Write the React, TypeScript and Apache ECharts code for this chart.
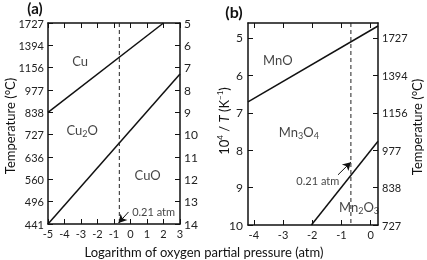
import React, { useEffect, useRef } from "react";
import * as echarts from "echarts";

// Panel (a): Cu–O system
const cuLogP = [-5, 2];
const cuInvT = [9, 5];
const cu2oLogP = [-5, 3];
const cu2oInvT = [14, 7.28];
const invTTicksA = [5, 6, 7, 8, 9, 10, 11, 12, 13, 14];
const tempLabelsA = ["1727", "1394", "1156", "977", "838", "727", "636", "560", "496", "441"];
const logPTicksA = [-5, -4, -3, -2, -1, 0, 1, 2, 3];

// Panel (b): Mn–O system
const mnoLogP = [-4.2, 0.25];
const mnoInvT = [6.71, 4.68];
const mn2o3LogP = [-2.03, 0.25];
const mn2o3InvT = [10, 7.76];
const invTTicksB = [5, 6, 7, 8, 9, 10];
const tempLabelsB = ["1727", "1394", "1156", "977", "838", "727"];
const logPTicksB = [-4, -3, -2, -1, 0];

// air: 0.21 atm
const airLogP = Math.log10(0.21);

const FONT = "Lato, 'Noto Sans', sans-serif";
const BLACK = "#111";

function pairs(xs: number[], ys: number[]) {
  return xs.map((x, i) => [x, ys[i]]);
}

export default function App() {
  const ref = useRef<HTMLDivElement>(null);
  useEffect(() => {
    if (!ref.current) return;
    const chart = echarts.init(ref.current, null, { renderer: "svg" });

    const axisLine = { show: true, onZero: false, lineStyle: { color: BLACK, width: 1.5 } };
    const tick = { show: true, inside: true, length: 5, lineStyle: { color: BLACK, width: 1 } };
    const lbl = { fontFamily: FONT, fontSize: 11, color: "#222" };

    const regLabel = (text: string, x: number, y: number) => ({
      value: [x, y],
      name: text,
    });
    const rich = {
      n: { fontFamily: FONT, fontSize: 13, color: "#111", lineHeight: 16 },
      s: { fontFamily: FONT, fontSize: 9, color: "#111", lineHeight: 16, verticalAlign: "bottom" as const, padding: [6, 0, 0, 0] },
      a: { fontFamily: FONT, fontSize: 11, color: "#111", lineHeight: 16 },
    };

    const labelSeries = (xi: number, yi: number, data: any[]) => ({
      type: "scatter",
      xAxisIndex: xi,
      yAxisIndex: yi,
      symbolSize: 0,
      silent: true,
      data,
      label: {
        show: true,
        position: "inside",
        formatter: (p: any) => p.name,
        rich,
      },
    });

    const phaseLine = (xi: number, yi: number, data: number[][]) => ({
      type: "line",
      xAxisIndex: xi,
      yAxisIndex: yi,
      data,
      symbol: "none",
      silent: true,
      lineStyle: { color: BLACK, width: 1.5 },
    });

    const dashLine = (xi: number, yi: number, y0: number, y1: number, arrow: number[][]) => ({
      type: "line",
      xAxisIndex: xi,
      yAxisIndex: yi,
      data: [
        [airLogP, y0],
        [airLogP, y1],
      ],
      symbol: "none",
      silent: true,
      lineStyle: { color: "#222", width: 1, type: [4, 3] },
      markLine: {
        silent: true,
        symbol: ["none", "arrow"],
        symbolSize: [7, 8],
        label: { show: false },
        lineStyle: { color: BLACK, width: 1, type: "solid" },
        data: [[{ coord: arrow[0] }, { coord: arrow[1] }]],
      },
    });

    chart.setOption({
      animation: false,
      grid: [
        { left: 48, top: 23, width: 132, height: 201 },
        { left: 248, top: 23, width: 130, height: 202 },
      ],
      xAxis: [
        {
          gridIndex: 0, type: "value", min: -5, max: 3, interval: 1, position: "bottom",
          axisLine, axisTick: tick, splitLine: { show: false },
          axisLabel: { ...lbl, margin: 4, formatter: (v: number) => (logPTicksA.includes(v) ? String(v) : "") },
        },
        {
          gridIndex: 0, type: "value", min: -5, max: 3, interval: 1, position: "top",
          axisLine, axisTick: tick, splitLine: { show: false }, axisLabel: { show: false },
        },
        {
          gridIndex: 1, type: "value", min: -4.2, max: 0.25, position: "bottom",
          axisLine, axisTick: { ...tick, customValues: logPTicksB }, splitLine: { show: false },
          axisLabel: { ...lbl, margin: 4, customValues: logPTicksB, formatter: (v: number) => String(v) },
        },
        {
          gridIndex: 1, type: "value", min: -4.2, max: 0.25, position: "top",
          axisLine, axisTick: { ...tick, customValues: logPTicksB }, splitLine: { show: false },
          axisLabel: { show: false },
        },
      ],
      yAxis: [
        {
          gridIndex: 0, type: "value", min: 5, max: 14, interval: 1, inverse: true, position: "left",
          axisLine, axisTick: tick, splitLine: { show: false },
          axisLabel: { ...lbl, margin: 4, formatter: (v: number) => tempLabelsA[invTTicksA.indexOf(v)] ?? "" },
        },
        {
          gridIndex: 0, type: "value", min: 5, max: 14, interval: 1, inverse: true, position: "right",
          axisLine, axisTick: tick, splitLine: { show: false },
          axisLabel: { ...lbl, fontSize: 12, margin: 4, formatter: (v: number) => String(v) },
        },
        {
          gridIndex: 1, type: "value", min: 4.6, max: 10, inverse: true, position: "left",
          axisLine, axisTick: { ...tick, customValues: invTTicksB }, splitLine: { show: false },
          axisLabel: { ...lbl, fontSize: 12, margin: 5, customValues: invTTicksB, formatter: (v: number) => String(v) },
        },
        {
          gridIndex: 1, type: "value", min: 4.6, max: 10, inverse: true, position: "right",
          axisLine, axisTick: { ...tick, customValues: invTTicksB }, splitLine: { show: false },
          axisLabel: {
            ...lbl, margin: 4, customValues: invTTicksB,
            formatter: (v: number) => tempLabelsB[invTTicksB.indexOf(v)] ?? "",
          },
        },
      ],
      series: [
        phaseLine(0, 0, pairs(cuLogP, cuInvT)),
        phaseLine(0, 0, pairs(cu2oLogP, cu2oInvT)),
        dashLine(0, 0, 5, 14, [[-0.12, 13.46], [-0.72, 13.95]]),
        labelSeries(0, 0, [
          regLabel("{n|Cu}", -3.05, 6.7),
          regLabel("{n|Cu}{s|2}{n|O}", -2.93, 9.79),
          regLabel("{n|CuO}", 1.04, 11.8),
          regLabel("{a|0.21 atm}", 1.4, 13.42),
        ]),
        phaseLine(2, 2, pairs(mnoLogP, mnoInvT)),
        phaseLine(2, 2, pairs(mn2o3LogP, mn2o3InvT)),
        dashLine(2, 2, 4.6, 10, [[-1.12, 8.66], [-0.68, 8.32]]),
        labelSeries(2, 2, [
          regLabel("{n|MnO}", -3.18, 5.59),
          regLabel("{n|Mn}{s|3}{n|O}{s|4}", -2.46, 7.51),
          regLabel("{n|Mn}{s|2}{n|O}{s|3}", -0.4, 9.52),
          regLabel("{a|0.21 atm}", -1.81, 8.8),
        ]),
      ],
      graphic: [
        { type: "text", x: 35, y: 8, style: { text: "(a)", font: `bold 15px ${FONT}`, lineHeight: 14, fill: BLACK, align: "center", verticalAlign: "middle" } },
        { type: "text", x: 234, y: 11, style: { text: "(b)", font: `bold 16px ${FONT}`, lineHeight: 14, fill: BLACK, align: "center", verticalAlign: "middle" } },
        {
          type: "text", x: 204, y: 252,
          style: { text: "Logarithm of oxygen partial pressure (atm)", font: `13px ${FONT}`, fill: BLACK, align: "center", verticalAlign: "middle" },
        },
        {
          type: "text", x: 10, y: 126, rotation: Math.PI / 2,
          style: { text: "Temperature (°C)", font: `13px ${FONT}`, fill: BLACK, align: "center", verticalAlign: "middle" },
        },
        {
          type: "text", x: 417, y: 127, rotation: Math.PI / 2,
          style: { text: "Temperature (°C)", font: `13px ${FONT}`, fill: BLACK, align: "center", verticalAlign: "middle" },
        },
        {
          type: "text", x: 224, y: 121, rotation: Math.PI / 2,
          style: {
            text: "{a|10}{p|4}{a| / }{i|T}{a| (K}{p|−1}{a|)}",
            align: "center", verticalAlign: "middle",
            rich: {
              a: { font: `13px ${FONT}`, fill: BLACK, lineHeight: 16 },
              i: { font: `italic 13px ${FONT}`, fill: BLACK, lineHeight: 16 },
              p: { font: `8px ${FONT}`, fill: BLACK, lineHeight: 16, verticalAlign: "top" },
            },
          },
        },
      ],
    });
    return () => chart.dispose();
  }, []);
  return <div ref={ref} style={{ position: "fixed", left: 0, top: 0, width: 427, height: 260 }} />;
}
